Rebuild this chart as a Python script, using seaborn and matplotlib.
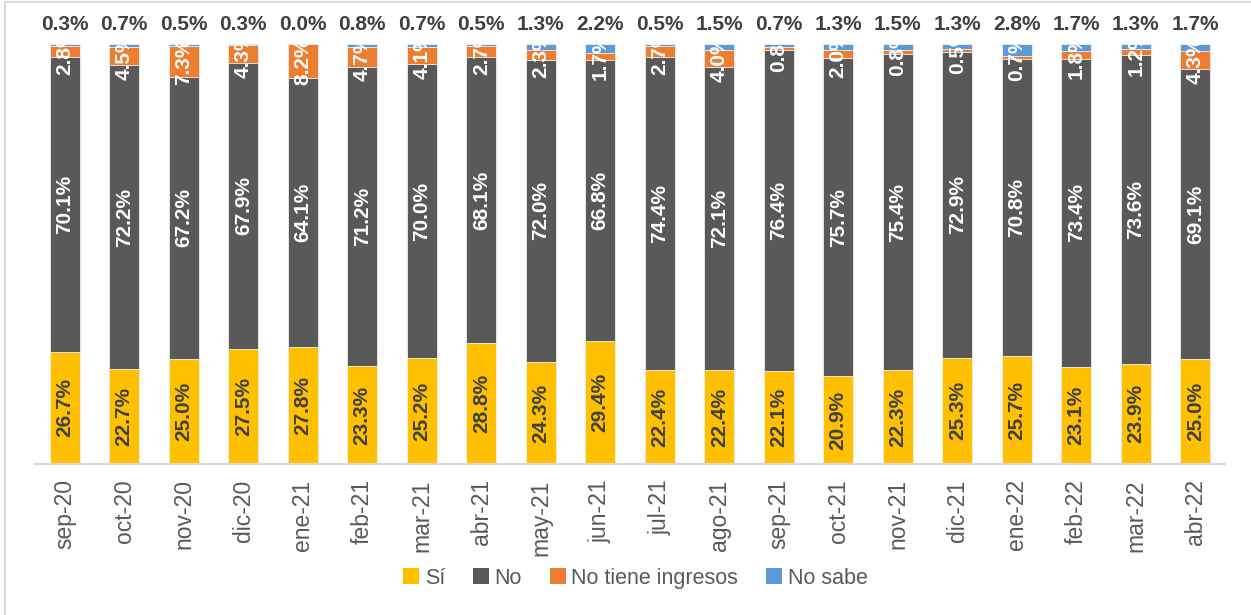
import matplotlib
matplotlib.use("Agg")
import matplotlib.pyplot as plt
import seaborn as sns
import pandas as pd
import numpy as np
from matplotlib.patches import Patch

months = ["sep-20", "oct-20", "nov-20", "dic-20", "ene-21", "feb-21", "mar-21",
          "abr-21", "may-21", "jun-21", "jul-21", "ago-21", "sep-21", "oct-21",
          "nov-21", "dic-21", "ene-22", "feb-22", "mar-22", "abr-22"]
si = [26.7, 22.7, 25.0, 27.5, 27.8, 23.3, 25.2, 28.8, 24.3, 29.4,
      22.4, 22.4, 22.1, 20.9, 22.3, 25.3, 25.7, 23.1, 23.9, 25.0]
no = [70.1, 72.2, 67.2, 67.9, 64.1, 71.2, 70.0, 68.1, 72.0, 66.8,
      74.4, 72.1, 76.4, 75.7, 75.4, 72.9, 70.8, 73.4, 73.6, 69.1]
no_ingresos = [2.8, 4.5, 7.3, 4.3, 8.2, 4.7, 4.1, 2.7, 2.3, 1.7,
               2.7, 4.0, 0.8, 2.0, 0.8, 0.5, 0.7, 1.8, 1.2, 4.3]
no_sabe = [0.3, 0.7, 0.5, 0.3, 0.0, 0.8, 0.7, 0.5, 1.3, 2.2,
           0.5, 1.5, 0.7, 1.3, 1.5, 1.3, 2.8, 1.7, 1.3, 1.7]

series_names = ["Sí", "No", "No tiene ingresos", "No sabe"]
colors = ["#FFC000", "#595959", "#ED7D31", "#5B9BD5"]

sns.set_theme(style="white")
plt.rcParams["font.family"] = ["Liberation Sans", "DejaVu Sans"]

df = pd.DataFrame({"mes": months, "Sí": si, "No": no,
                   "No tiene ingresos": no_ingresos, "No sabe": no_sabe})
vals = df[series_names].to_numpy()
cum = np.cumsum(vals, axis=1)

fig = plt.figure(figsize=(12.51, 6.15), dpi=100)
ax = fig.add_axes([35 / 1251, (615 - 464) / 615, (1225 - 35) / 1251, (464 - 44) / 615])

# draw cumulative layers back to front (stacked appearance)
for k in range(3, -1, -1):
    d = pd.DataFrame({"mes": months, "v": cum[:, k]})
    sns.barplot(data=d, x="mes", y="v", color=colors[k], width=0.5,
                saturation=1, ax=ax, edgecolor="#f2f2f2", linewidth=0.6)

ax.set_ylim(0, 100)
ax.set_xlim(-0.5, len(months) - 0.5)
ax.set_ylabel("")
ax.set_xlabel("")
ax.set_yticks([])
for s in ["left", "right", "top"]:
    ax.spines[s].set_visible(False)
ax.spines["bottom"].set_color("#d9d9d9")
ax.spines["bottom"].set_linewidth(1.5)
ax.tick_params(axis="x", length=0, pad=11, labelsize=16.5, labelcolor="#595959")
plt.setp(ax.get_xticklabels(), rotation=90)

lbl_kw = dict(ha="center", va="center", rotation=90, fontsize=15, fontweight="bold")
for i in range(len(months)):
    base = 0
    for k, c in zip(range(3), ["#404040", "white", "white"]):
        v = vals[i, k]
        y = base + v / 2
        ax.text(i, y, f"{v:.1f}%", color=c, clip_on=True, **lbl_kw)
        base += v
    ax.text(i, 104.6, f"{vals[i, 3]:.1f}%", ha="center", va="center",
            fontsize=15, fontweight="bold", color="#404040", clip_on=False)

handles = [Patch(facecolor=c, edgecolor="none") for c in colors]
leg = fig.legend(handles, series_names, loc="center", bbox_to_anchor=(0.508, 0.06),
                 ncol=4, frameon=False, fontsize=15.5, handlelength=0.75,
                 handleheight=0.75, handletextpad=0.25, columnspacing=1.3)
for t in leg.get_texts():
    t.set_color("#595959")

# chart area border (left and top)
fig.add_artist(plt.Line2D([5 / 1251, 5 / 1251], [0, 1 - 2 / 615], color="#d9d9d9",
                          lw=1.5, transform=fig.transFigure))
fig.add_artist(plt.Line2D([5 / 1251, 1], [1 - 2 / 615, 1 - 2 / 615], color="#d9d9d9",
                          lw=1.5, transform=fig.transFigure))

fig.savefig("out.png", dpi=100)
